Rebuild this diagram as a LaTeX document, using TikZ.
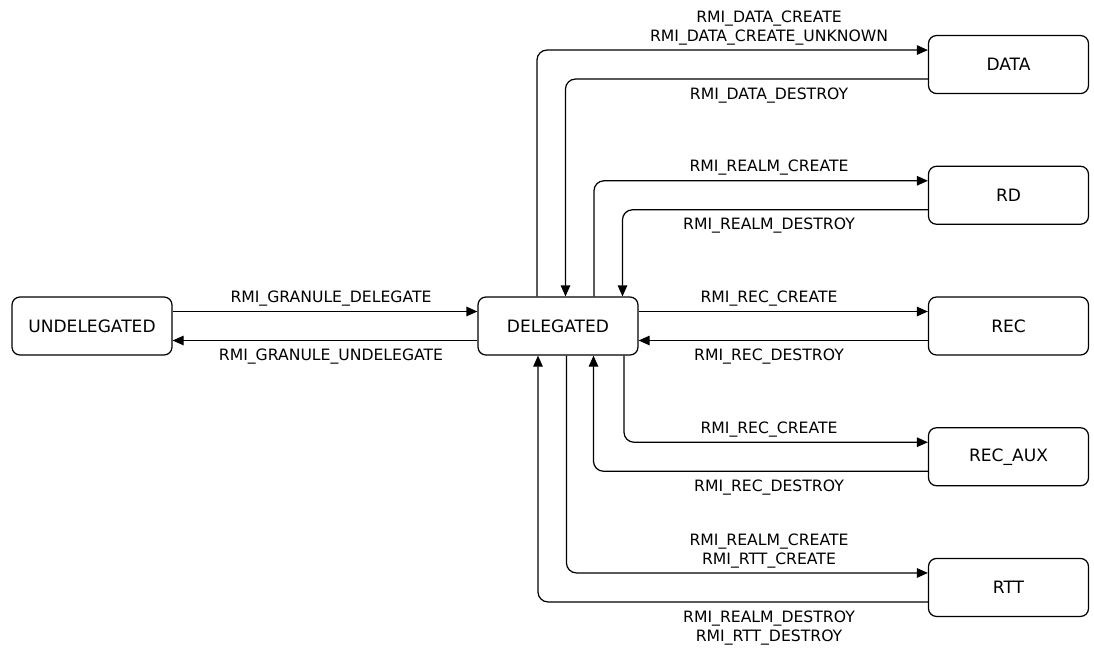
\documentclass[tikz,border=0pt]{standalone}
\usepackage{fontspec}
\setmainfont{DejaVu Sans}
\usetikzlibrary{positioning, arrows.meta}

\begin{document}
\begin{tikzpicture}[
        node distance=1.43cm,
        state/.style={rectangle, draw, rounded corners=0.16cm, line width=0.7pt, minimum width=3.2cm, minimum height=1.16cm, inner sep=0pt, font=\fontsize{9.7}{11.6}\selectfont},
        flow/.style={line width=0.7pt, rounded corners=0.2cm, -{Triangle[length=0.22cm, width=0.19cm]}},
        lbl/.style={font=\fontsize{8.9}{11.1}\selectfont, inner sep=0pt, align=center}
    ]
        \useasboundingbox (0,0) rectangle (21.88,-12.96);

        %States
        \node[state] (undelegated) at (1.84,-6.52) {UNDELEGATED};
        \node[state] (delegated) at (11.16,-6.52) {DELEGATED};
        \node[state] (rec) at (20.17,-6.52) {REC};
        \node[state, above=of rec] (rd) {RD};
        \node[state, above=of rd] (data) {DATA};
        \node[state, below=of rec] (recaux) {REC\_AUX};
        \node[state, below=of recaux] (rtt) {RTT};

        % Granule delegation
        \draw[flow] ([yshift=0.29cm]undelegated.east) -- ([yshift=0.29cm]delegated.west);
        \draw[flow] ([yshift=-0.29cm]delegated.west) -- ([yshift=-0.29cm]undelegated.east);
        \node[lbl, anchor=south] (lbl_deleg) at (6.62,-6.14) {RMI\_GRANULE\_DELEGATE};
        \node[lbl, anchor=north] (lbl_undeleg) at (6.62,-6.97) {RMI\_GRANULE\_UNDELEGATE};

        % DATA
        \draw[flow] ([xshift=-0.42cm]delegated.north) |- ([yshift=0.29cm]data.west);
        \draw[flow] ([yshift=-0.29cm]data.west) -| ([xshift=0.15cm]delegated.north);
        \node[lbl, anchor=south] (lbl_data_c) at (15.38,-0.92) {RMI\_DATA\_CREATE\\RMI\_DATA\_CREATE\_UNKNOWN};
        \node[lbl, anchor=north] (lbl_data_d) at (15.38,-1.75) {RMI\_DATA\_DESTROY};

        % RD
        \draw[flow] ([xshift=0.72cm]delegated.north) |- ([yshift=0.29cm]rd.west);
        \draw[flow] ([yshift=-0.29cm]rd.west) -| ([xshift=1.29cm]delegated.north);
        \node[lbl, anchor=south] (lbl_rd_c) at (15.38,-3.52) {RMI\_REALM\_CREATE};
        \node[lbl, anchor=north] (lbl_rd_d) at (15.38,-4.35) {RMI\_REALM\_DESTROY};

        % REC
        \draw[flow] ([yshift=0.29cm]delegated.east) -- ([yshift=0.29cm]rec.west);
        \draw[flow] ([yshift=-0.29cm]rec.west) -- ([yshift=-0.29cm]delegated.east);
        \node[lbl, anchor=south] (lbl_rec_c) at (15.38,-6.14) {RMI\_REC\_CREATE};
        \node[lbl, anchor=north] (lbl_rec_d) at (15.38,-6.97) {RMI\_REC\_DESTROY};

        % REC_AUX
        \draw[flow] ([xshift=1.32cm]delegated.south) |- ([yshift=0.29cm]recaux.west);
        \draw[flow] ([yshift=-0.29cm]recaux.west) -| ([xshift=0.71cm]delegated.south);
        \node[lbl, anchor=south] (lbl_aux_c) at (15.38,-8.76) {RMI\_REC\_CREATE};
        \node[lbl, anchor=north] (lbl_aux_d) at (15.38,-9.59) {RMI\_REC\_DESTROY};

        % RTT
        \draw[flow] ([xshift=0.17cm]delegated.south) |- ([yshift=0.29cm]rtt.west);
        \draw[flow] ([yshift=-0.29cm]rtt.west) -| ([xshift=-0.40cm]delegated.south);
        \node[lbl, anchor=south] (lbl_rtt_c) at (15.38,-11.38) {RMI\_REALM\_CREATE\\RMI\_RTT\_CREATE};
        \node[lbl, anchor=north] (lbl_rtt_d) at (15.38,-12.21) {RMI\_REALM\_DESTROY\\RMI\_RTT\_DESTROY};

    \end{tikzpicture}
\end{document}
